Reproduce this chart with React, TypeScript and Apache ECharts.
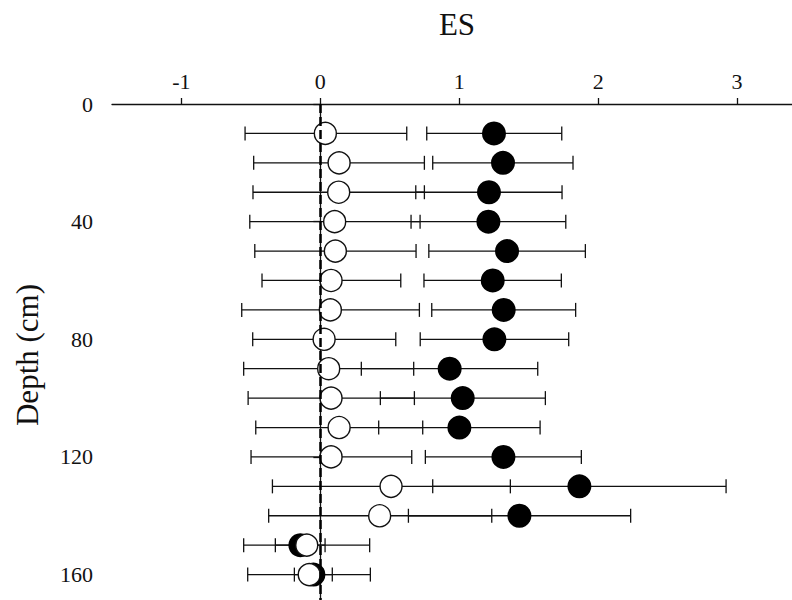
import React, { useEffect, useRef } from "react";
import * as echarts from "echarts";

// Sampling depths (cm)
const depths = [10, 20, 30, 40, 50, 60, 70, 80, 90, 100, 110, 120, 130, 140, 150, 160];

// Open-circle series: effect size and 95% CI
const openES = [0.036, 0.135, 0.132, 0.103, 0.108, 0.077, 0.072, 0.027, 0.06, 0.077, 0.135, 0.077, 0.509, 0.427, -0.098, -0.08];
const openLow = [-0.542, -0.48, -0.485, -0.508, -0.472, -0.42, -0.566, -0.487, -0.552, -0.52, -0.465, -0.499, -0.345, -0.372, -0.552, -0.523];
const openHigh = [0.622, 0.749, 0.749, 0.718, 0.689, 0.579, 0.713, 0.543, 0.672, 0.677, 0.737, 0.658, 1.368, 1.234, 0.355, 0.36];

// Filled-circle series: effect size and 95% CI
const filledES = [1.25, 1.315, 1.214, 1.21, 1.344, 1.241, 1.32, 1.253, 0.931, 1.025, 1.001, 1.318, 1.865, 1.433, -0.144, -0.05];
const filledLow = [0.766, 0.809, 0.687, 0.653, 0.781, 0.746, 0.802, 0.719, 0.295, 0.432, 0.42, 0.756, 0.809, 0.634, -0.324, -0.187];
const filledHigh = [1.738, 1.819, 1.74, 1.767, 1.908, 1.735, 1.838, 1.788, 1.565, 1.62, 1.582, 1.879, 2.921, 2.234, 0.034, 0.086];

const xTicks = [-1, 0, 1, 2, 3];
const yTicks = [0, 40, 80, 120, 160];

const FONT = "'Liberation Serif', 'Times New Roman', serif";
const INK = "#111";

function errorBarSeries(low: number[], high: number[], z: number) {
  return {
    type: "custom",
    z,
    silent: true,
    clip: false,
    data: depths.map((d, i) => [low[i], high[i], d]),
    encode: { x: [0, 1], y: 2 },
    renderItem: (_params: any, api: any) => {
      const a = api.coord([api.value(0), api.value(2)]);
      const b = api.coord([api.value(1), api.value(2)]);
      const h = 7;
      const style = { stroke: INK, lineWidth: 1.3, fill: "none" };
      return {
        type: "group",
        children: [
          { type: "line", shape: { x1: a[0], y1: a[1], x2: b[0], y2: b[1] }, style },
          { type: "line", shape: { x1: a[0], y1: a[1] - h, x2: a[0], y2: a[1] + h }, style },
          { type: "line", shape: { x1: b[0], y1: b[1] - h, x2: b[0], y2: b[1] + h }, style },
        ],
      };
    },
  };
}

export default function App() {
  const ref = useRef<HTMLDivElement>(null);

  useEffect(() => {
    if (!ref.current) return;
    const chart = echarts.init(ref.current, undefined, { renderer: "svg" });
    chart.setOption({
      animation: false,
      backgroundColor: "#fff",
      // the plot area runs past the right and bottom edges of the canvas
      grid: { left: 112, top: 104, width: 694.5, height: 500, outerBoundsMode: "none", containLabel: false },
      xAxis: {
        type: "value",
        position: "top",
        min: -1.5,
        max: 3.5,
        splitLine: { show: false },
        axisLine: { show: true, lineStyle: { color: INK, width: 1.3 } },
        axisTick: { show: true, inside: false, length: 6, customValues: xTicks, lineStyle: { color: INK, width: 1.3 } },
        axisLabel: { customValues: xTicks, color: INK, fontFamily: FONT, fontSize: 22, margin: 12 },
      },
      yAxis: {
        type: "value",
        inverse: true,
        min: 0,
        max: 170,
        splitLine: { show: false },
        axisLine: { show: true, lineStyle: { color: INK, width: 1.3 } },
        axisTick: { show: true, inside: false, length: 7, customValues: yTicks, lineStyle: { color: INK, width: 1.3 } },
        axisLabel: { customValues: yTicks, color: INK, fontFamily: FONT, fontSize: 22, margin: 19 },
      },
      graphic: [
        {
          type: "text",
          x: 457,
          y: 24,
          style: { text: "ES", fontFamily: FONT, fontSize: 31, fill: INK, align: "center", verticalAlign: "middle" },
        },
        {
          type: "text",
          x: 27,
          y: 355,
          rotation: Math.PI / 2,
          style: { text: "Depth (cm)", fontFamily: FONT, fontSize: 31, fill: INK, align: "center", verticalAlign: "middle" },
        },
      ],
      series: [
        errorBarSeries(filledLow, filledHigh, 1),
        errorBarSeries(openLow, openHigh, 1),
        {
          type: "scatter",
          z: 2,
          symbol: "circle",
          symbolSize: 24,
          itemStyle: { color: "#000", opacity: 1 },
          data: depths.map((d, i) => [filledES[i], d]),
        },
        {
          type: "scatter",
          z: 3,
          symbol: "circle",
          symbolSize: 22,
          itemStyle: { color: "#fff", borderColor: INK, borderWidth: 1.4, opacity: 1 },
          data: depths.map((d, i) => [openES[i], d]),
        },
        {
          // zero-effect reference line
          type: "line",
          z: 4,
          data: [],
          markLine: {
            silent: true,
            symbol: ["none", "none"],
            label: { show: false },
            lineStyle: { color: "#000", width: 2.5, type: [9, 4], opacity: 1 },
            data: [{ xAxis: 0 }],
          },
        },
      ],
    });
    return () => chart.dispose();
  }, []);

  return <div ref={ref} style={{ width: 792, height: 600, position: "absolute", left: 0, top: 0 }} />;
}
